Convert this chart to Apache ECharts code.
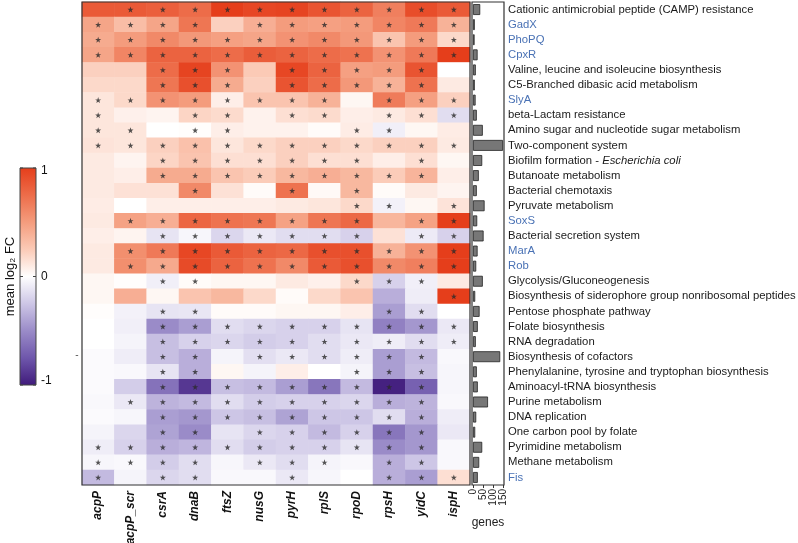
<!DOCTYPE html>
<html>
<head>
<meta charset="utf-8">
<script src="https://cdn.jsdelivr.net/npm/echarts@6/dist/echarts.min.js"></script>
<style>html,body{margin:0;padding:0;background:#fff}#c{width:798px;height:543px}</style>
</head>
<body>
<div id="c"></div>
<script>
const cols = ['acpP','acpP_scr','csrA','dnaB','ftsZ','nusG','pyrH','rplS','rpoD','rpsH','yidC','ispH'];
const rows = ['Cationic antimicrobial peptide (CAMP) resistance','GadX','PhoPQ','CpxR',
 'Valine, leucine and isoleucine biosynthesis','C5-Branched dibasic acid metabolism','SlyA',
 'beta-Lactam resistance','Amino sugar and nucleotide sugar metabolism','Two-component system',
 'Biofilm formation - Escherichia coli','Butanoate metabolism','Bacterial chemotaxis','Pyruvate metabolism',
 'SoxS','Bacterial secretion system','MarA','Rob','Glycolysis/Gluconeogenesis',
 'Biosynthesis of siderophore group nonribosomal peptides','Pentose phosphate pathway','Folate biosynthesis',
 'RNA degradation','Biosynthesis of cofactors','Phenylalanine, tyrosine and tryptophan biosynthesis',
 'Aminoacyl-tRNA biosynthesis','Purine metabolism','DNA replication','One carbon pool by folate',
 'Pyrimidine metabolism','Methane metabolism','Fis'];
const regulons = ['GadX','PhoPQ','CpxR','SlyA','SoxS','MarA','Rob','Fis'];
const genes = [36,9,8,23,14,9,13,19,49,150,46,29,19,58,21,53,23,16,49,11,33,24,14,136,19,24,75,16,11,46,31,24];
const geneTicks = [0,50,100,150];
const cbarTicks = ['1','0','-1'];

const logFC = [
 [0.85,0.85,0.82,0.75,1.0,0.95,0.97,0.88,0.8,0.65,0.92,0.85],
 [0.45,0.32,0.45,0.7,0.22,0.4,0.5,0.48,0.5,0.62,0.68,0.38],
 [0.42,0.5,0.6,0.52,0.48,0.45,0.55,0.6,0.52,0.28,0.5,0.18],
 [0.45,0.62,0.8,0.8,0.75,0.83,0.8,0.75,0.72,0.55,0.68,1.0],
 [0.22,0.22,0.75,0.97,0.55,0.25,0.95,0.8,0.48,0.5,0.88,0.0],
 [0.18,0.18,0.7,0.9,0.42,0.22,0.88,0.75,0.52,0.38,0.72,0.1],
 [0.12,0.18,0.55,0.5,0.08,0.28,0.28,0.38,0.04,0.67,0.48,0.22],
 [0.12,0.07,0.05,0.2,0.17,0.06,0.15,0.17,0.08,0.1,0.15,-0.15],
 [0.12,0.12,0.0,0.01,0.08,0.06,0.06,0.02,0.09,-0.07,0.04,0.09],
 [0.13,0.12,0.22,0.3,0.12,0.18,0.22,0.22,0.18,0.22,0.22,0.1],
 [0.1,0.05,0.2,0.28,0.15,0.15,0.22,0.15,0.15,0.08,0.15,0.04],
 [0.1,0.08,0.42,0.42,0.28,0.24,0.35,0.4,0.35,0.24,0.37,0.08],
 [0.1,0.14,0.14,0.6,0.14,0.02,0.72,0.03,0.35,0.02,0.1,0.05],
 [0.09,0.0,0.08,0.08,0.08,0.08,0.1,0.12,0.18,-0.06,0.04,0.13],
 [0.1,0.47,0.4,0.78,0.72,0.7,0.47,0.7,0.77,0.36,0.47,1.05],
 [0.08,0.05,-0.12,-0.04,-0.18,-0.1,-0.15,-0.15,-0.2,0.14,-0.09,-0.2],
 [0.1,0.57,0.68,0.95,0.85,0.8,0.77,0.9,0.9,0.38,0.55,1.08],
 [0.1,0.57,0.43,0.93,0.8,0.72,0.6,0.85,0.9,0.6,0.65,1.02],
 [0.04,0.01,-0.07,0.02,0.04,0.04,0.1,0.07,0.18,-0.2,-0.07,0.1],
 [0.04,0.4,0.04,0.28,0.35,0.18,0.02,0.18,0.28,-0.35,-0.08,1.0],
 [0.01,-0.06,-0.12,-0.11,0.02,0.02,0.04,0.04,0.08,-0.42,-0.15,0.0],
 [0.0,-0.07,-0.5,-0.42,-0.15,-0.18,-0.2,-0.2,-0.12,-0.55,-0.45,-0.1],
 [0.0,-0.05,-0.28,-0.2,-0.18,-0.22,-0.2,-0.15,-0.1,-0.08,-0.15,-0.08],
 [-0.02,-0.08,-0.28,-0.35,-0.05,-0.14,-0.1,-0.15,-0.08,-0.42,-0.3,-0.03],
 [-0.02,-0.03,-0.12,-0.35,0.04,-0.05,0.08,0.0,-0.05,-0.42,-0.28,-0.04],
 [-0.02,-0.22,-0.62,-0.88,-0.28,-0.3,-0.42,-0.6,-0.3,-0.97,-0.7,-0.04],
 [-0.03,-0.1,-0.33,-0.3,-0.15,-0.22,-0.2,-0.2,-0.18,-0.35,-0.33,-0.03],
 [-0.02,-0.04,-0.42,-0.45,-0.25,-0.28,-0.4,-0.25,-0.25,-0.15,-0.35,-0.08],
 [-0.05,-0.18,-0.4,-0.5,-0.12,-0.18,-0.2,-0.3,-0.2,-0.6,-0.45,-0.1],
 [-0.08,-0.2,-0.35,-0.32,-0.15,-0.22,-0.2,-0.2,-0.12,-0.5,-0.45,-0.03],
 [-0.04,-0.03,-0.22,-0.15,-0.04,-0.1,-0.15,-0.05,-0.03,-0.35,-0.25,-0.03],
 [-0.3,-0.05,-0.18,-0.15,-0.03,-0.03,-0.1,-0.04,0.0,-0.35,-0.42,0.15]
];
const sig = [
 [0,1,1,1,1,1,1,1,1,1,1,1],
 [1,1,1,1,0,1,1,1,1,1,1,1],
 [1,1,1,1,1,1,1,1,1,1,1,1],
 [1,1,1,1,1,1,1,1,1,1,1,1],
 [0,0,1,1,1,0,1,1,1,1,1,0],
 [0,0,1,1,1,0,1,1,1,1,1,0],
 [1,1,1,1,1,1,1,1,0,1,1,1],
 [1,0,0,1,1,0,1,1,0,1,1,1],
 [1,1,0,1,1,0,0,0,1,1,0,0],
 [1,1,1,1,1,1,1,1,1,1,1,1],
 [0,0,1,1,1,1,1,1,1,0,1,0],
 [0,0,1,1,1,1,1,1,1,1,1,0],
 [0,0,0,1,0,0,1,0,1,0,0,0],
 [0,0,0,0,0,0,0,0,1,1,0,1],
 [0,1,1,1,1,1,1,1,1,0,1,1],
 [0,0,1,1,1,1,1,1,1,0,1,1],
 [0,1,1,1,1,1,1,1,1,1,1,1],
 [0,1,1,1,1,1,1,1,1,1,1,1],
 [0,0,1,1,0,0,0,0,1,1,1,0],
 [0,0,0,0,0,0,0,0,0,0,0,1],
 [0,0,1,1,0,0,0,0,0,1,1,0],
 [0,0,1,1,1,1,1,1,1,1,1,1],
 [0,0,1,1,1,1,1,1,1,1,1,1],
 [0,0,1,1,0,1,1,1,1,1,1,0],
 [0,0,1,1,0,0,0,0,1,1,1,0],
 [0,0,1,1,1,1,1,1,1,1,1,0],
 [0,1,1,1,1,1,1,1,1,1,1,0],
 [0,0,1,1,1,1,1,1,1,1,1,0],
 [0,0,1,1,0,1,1,1,1,1,1,0],
 [1,1,1,1,1,1,1,1,1,1,1,0],
 [1,1,1,1,0,1,1,1,0,1,1,0],
 [1,0,1,1,0,0,1,0,0,1,1,1]
];

const palette = ['#3f1a7a','#6e56ab','#9a8bc8','#cdc6e6','#ffffff','#fbcab6','#f49c7d','#ed6c49','#e53e1b'];

const heatData = [];
const starData = [];
logFC.forEach((r, ri) => r.forEach((v, ci) => {
  heatData.push([ci, ri, v]);
  if (sig[ri][ci]) starData.push([ci, ri]);
}));

const FONT = '"Liberation Sans", Arial, sans-serif';
const HM = {left: 82, top: 2, width: 388, height: 483};
const BG = {left: 473, top: 2, width: 30, height: 483};
const LABEL_SIZE = 11.3;

const star = 'path://M50,0 L61.8,35.1 L97.6,35.1 L68.8,56.7 L79.4,91 L50,70 L20.6,91 L31.2,56.7 L2.4,35.1 L38.2,35.1 Z';

const chart = echarts.init(document.getElementById('c'), null, {renderer: 'canvas'});
const gradStops = palette.slice().reverse().map((c, i) => ({offset: i / (palette.length - 1), color: c}));
const cbar = {x: 20, y: 168, w: 16, h: 217};

const graphics = [
  {type: 'rect', shape: {x: HM.left, y: HM.top, width: HM.width, height: HM.height}, style: {fill: 'none', stroke: '#333', lineWidth: 1.2}, z: 100},
  {type: 'rect', shape: {x: 472, y: BG.top, width: 32, height: BG.height}, style: {fill: 'none', stroke: '#333', lineWidth: 1.2}, z: 100},
  {type: 'rect', shape: {x: cbar.x, y: cbar.y, width: cbar.w, height: cbar.h},
    style: {fill: new echarts.graphic.LinearGradient(0, 0, 0, 1, gradStops), stroke: '#444', lineWidth: 1}, z: 90},
  {type: 'text', x: 10, y: cbar.y + cbar.h / 2, rotation: Math.PI / 2,
    style: {text: 'mean log\u2082 FC', font: '13px ' + FONT, fill: '#111', textAlign: 'center', textVerticalAlign: 'middle'}},
  {type: 'text', x: 77, y: 355, style: {text: '-', font: '10px ' + FONT, fill: '#555', textAlign: 'center', textVerticalAlign: 'middle'}}
];
const tickYs = [cbar.y + 3, cbar.y + cbar.h / 2, cbar.y + cbar.h - 4];
cbarTicks.forEach((t, i) => {
  graphics.push({type: 'text', x: cbar.x + cbar.w + 5, y: tickYs[i],
    style: {text: t, font: '12px ' + FONT, fill: '#111', textAlign: 'left', textVerticalAlign: 'middle'}});
  const ty = [cbar.y, cbar.y + cbar.h / 2, cbar.y + cbar.h][i];
  graphics.push({type: 'line', shape: {x1: cbar.x, y1: ty, x2: cbar.x + 3, y2: ty}, style: {stroke: '#444', lineWidth: 1}, z: 95});
  graphics.push({type: 'line', shape: {x1: cbar.x + cbar.w - 3, y1: ty, x2: cbar.x + cbar.w, y2: ty}, style: {stroke: '#444', lineWidth: 1}, z: 95});
});

const option = {
  animation: false,
  backgroundColor: '#fff',
  textStyle: {fontFamily: FONT},
  grid: [
    Object.assign({}, HM, {containLabel: false, outerBoundsMode: 'none'}),
    Object.assign({}, BG, {containLabel: false, outerBoundsMode: 'none'})
  ],
  visualMap: {
    show: false, type: 'continuous', min: -1, max: 1, dimension: 2, seriesIndex: 0,
    inRange: {color: palette}
  },
  xAxis: [
    {type: 'category', gridIndex: 0, data: cols, position: 'bottom',
      axisLine: {show: false}, axisTick: {show: false}, splitLine: {show: false},
      axisLabel: {rotate: 90, interval: 0, margin: 6, fontSize: 12, fontWeight: 'bold', fontStyle: 'italic', color: '#111', fontFamily: FONT}},
    {type: 'value', gridIndex: 1, min: geneTicks[0], max: geneTicks[geneTicks.length - 1], interval: 50,
      axisLine: {show: false}, splitLine: {show: false},
      axisTick: {show: true, length: 3, lineStyle: {color: '#333'}},
      axisLabel: {rotate: 90, margin: 4, fontSize: 10, color: '#222', fontFamily: FONT,
        hideOverlap: false, showMinLabel: true, showMaxLabel: true},
      name: 'genes', nameLocation: 'middle', nameGap: 32,
      nameTextStyle: {fontSize: 12, color: '#222', fontFamily: FONT}}
  ],
  yAxis: [
    {type: 'category', gridIndex: 0, data: rows, inverse: true,
      axisLine: {show: false}, axisTick: {show: false}, axisLabel: {show: false}, splitLine: {show: false}},
    {type: 'category', gridIndex: 1, data: rows, inverse: true, position: 'right',
      axisLine: {show: false}, axisTick: {show: false}, splitLine: {show: false},
      axisLabel: {show: true, interval: 0, margin: 5, fontSize: LABEL_SIZE, color: '#1a1a1a', fontFamily: FONT,
        formatter: function (v) {
          if (regulons.indexOf(v) >= 0) return '{b|' + v + '}';
          if (v.indexOf('Escherichia coli') >= 0) return 'Biofilm formation - {i|Escherichia coli}';
          return v;
        },
        rich: {
          b: {color: '#4a72b5', fontSize: LABEL_SIZE, fontFamily: FONT},
          i: {fontStyle: 'italic', color: '#1a1a1a', fontSize: LABEL_SIZE, fontFamily: FONT}
        }}}
  ],
  series: [
    {type: 'heatmap', xAxisIndex: 0, yAxisIndex: 0, data: heatData,
      itemStyle: {borderWidth: 0}, emphasis: {disabled: true}, progressive: 0},
    {type: 'scatter', xAxisIndex: 0, yAxisIndex: 0, data: starData, symbol: star, symbolSize: 6,
      itemStyle: {color: '#2a2a2a'}, emphasis: {disabled: true}, z: 5, silent: true},
    {type: 'bar', xAxisIndex: 1, yAxisIndex: 1, data: genes, barWidth: '72%',
      itemStyle: {color: '#777', borderColor: '#222', borderWidth: 0.8}, emphasis: {disabled: true}}
  ],
  graphic: graphics
};
chart.setOption(option);
</script>
</body>
</html>
